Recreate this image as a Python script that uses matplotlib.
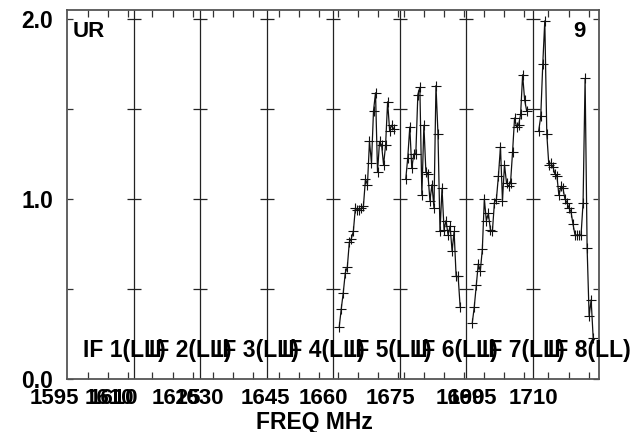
import numpy as np
import matplotlib
matplotlib.use("Agg")
import matplotlib.pyplot as plt
from matplotlib.transforms import blended_transform_factory

plt.rcParams['font.family'] = ['Liberation Sans', 'DejaVu Sans']

# ---- data (amplitude per channel, IFs 5-8; IFs 1-4 empty) ----
if_labels = ["IF 1(LL)", "IF 2(LL)", "IF 3(LL)", "IF 4(LL)",
             "IF 5(LL)", "IF 6(LL)", "IF 7(LL)", "IF 8(LL)"]
if5 = [0.29, 0.39, 0.48, 0.59, 0.62, 0.76, 0.78, 0.82, 0.95, 0.94, 0.94, 0.95,
       0.96, 1.11, 1.08, 1.32, 1.20, 1.49, 1.59, 1.15, 1.32, 1.30, 1.19, 1.30,
       1.54, 1.38, 1.41, 1.39]
if6 = [1.11, 1.23, 1.40, 1.17, 1.25, 1.25, 1.58, 1.62, 1.02, 1.41, 1.15, 1.14,
       0.99, 1.08, 0.95, 1.63, 1.36, 0.82, 1.06, 0.83, 0.88, 0.80, 0.85, 0.71,
       0.82, 0.57, 0.57, 0.40]
if7 = [0.31, 0.40, 0.52, 0.64, 0.60, 0.72, 1.00, 0.88, 0.92, 0.83, 0.82, 0.98,
       1.00, 1.13, 1.29, 0.99, 1.19, 1.09, 1.07, 1.09, 1.26, 1.45, 1.40, 1.41,
       1.47, 1.69, 1.55, 1.49]
if8 = [1.38, 1.46, 1.75, 1.99, 1.36, 1.19, 1.20, 1.18, 1.14, 1.13, 1.02, 1.07,
       1.06, 1.00, 0.98, 0.95, 0.93, 0.86, 0.80, 0.80, 0.80, 0.80, 0.98, 1.67,
       0.73, 0.35, 0.44, 0.23]
series = {4: if5, 5: if6, 6: if7, 7: if8}

freq_labels = ["1595", "1610", "1610", "1625", "1630", "1645", "1660",
               "1675", "1690", "1695", "1710"]
freq_label_pos = [-6.45, 20.8, 22.8, 54.1, 65.5, 98.3, 127.0, 160.3,
                  195.0, 201.0, 231.3]
y_ticks = [0.0, 0.5, 1.0, 1.5, 2.0]
y_ticklabels = ["0.0", "", "1.0", "", "2.0"]

# ---- layout ----
N_IF = 8
SLOT = 33          # channel slots per IF panel
FIRST = 3.1        # first plotted channel offset in panel
tick_off = [10.4, 9.4, 6.5, 6.0, 2.5, 2.0, 8.9, 7.9]

W, H = 638, 432
fig = plt.figure(figsize=(W / 100, H / 100), dpi=100)
ax = fig.add_axes([67 / W, (H - 379) / H, 532 / W, 369 / H])
ax.set_xlim(0, N_IF * SLOT)
ax.set_ylim(0, 2.05)

for s in ax.spines.values():
    s.set_color('#555555')
    s.set_linewidth(1.3)

# panel dividers
for i in range(1, N_IF):
    ax.axvline(i * SLOT, color='#222222', lw=0.9)
    for yv in y_ticks[1:]:
        ax.plot([i * SLOT], [yv], marker='_', ms=10, mew=0.9, color='#222222',
                clip_on=False)

# data
for i, vals in series.items():
    x = i * SLOT + FIRST + np.arange(len(vals))
    ax.plot(x, vals, color='#111111', lw=0.9, marker='+', ms=6.5, mew=0.8)

# ticks
minor = []
for i in range(N_IF):
    t = tick_off[i]
    while t < SLOT - 0.3:
        minor.append(i * SLOT + t)
        t += 10
ax.set_xticks([])
ax.set_xticks(minor, minor=True)
ax.tick_params(axis='x', which='minor', direction='in', top=True, bottom=True,
               length=5, width=0.9, color='#333333')
ax.set_yticks(y_ticks)
ax.set_yticklabels(y_ticklabels, fontsize=16.5, fontweight='bold')
ax.tick_params(axis='y', which='major', direction='in', left=True, right=True,
               length=4.5, width=0.9, color='#333333', pad=10)

bt = blended_transform_factory(ax.transData, fig.transFigure)
for lab, pos in zip(freq_labels, freq_label_pos):
    ax.text(pos, 1 - 398 / H, lab, transform=bt, ha='center', va='center',
            fontsize=16, fontweight='bold', clip_on=False)

fig.text(314 / W, 1 - 422 / H, "FREQ MHz", ha='center', va='center',
         fontsize=16.5, fontweight='bold')

for i, lab in enumerate(if_labels):
    ax.text(i * SLOT + 7.8, (379 - 357) / 180, lab, ha='left', va='baseline',
            fontsize=16.5, fontweight='bold', clip_on=False)

ax.text(73 / W, 1 - 37 / H, "UR", transform=fig.transFigure, ha='left',
        va='baseline', fontsize=16, fontweight='bold')
ax.text(586 / W, 1 - 37 / H, "9", transform=fig.transFigure, ha='right',
        va='baseline', fontsize=16, fontweight='bold')

fig.savefig("out.png", dpi=100)
